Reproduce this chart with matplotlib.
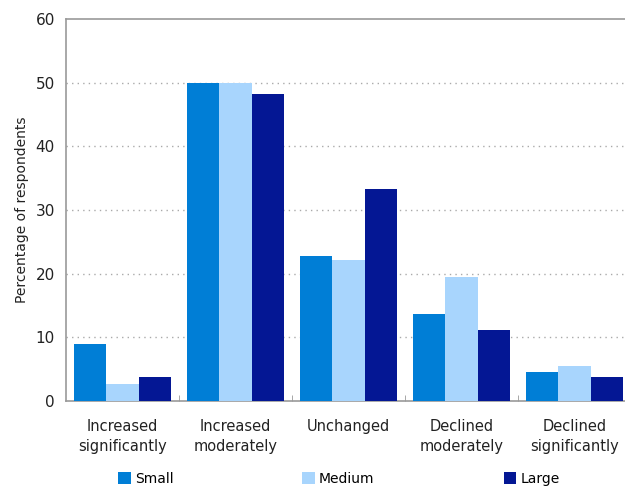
import matplotlib
matplotlib.use("Agg")
import matplotlib.pyplot as plt
import numpy as np

categories = ["Increased\nsignificantly", "Increased\nmoderately", "Unchanged",
              "Declined\nmoderately", "Declined\nsignificantly"]
series_names = ["Small", "Medium", "Large"]
small = [8.9, 50.0, 22.8, 13.7, 4.6]
medium = [2.7, 50.0, 22.2, 19.4, 5.5]
large = [3.8, 48.2, 33.3, 11.2, 3.8]
colors = ["#007ED6", "#A8D5FD", "#041794"]
yticks = [0, 10, 20, 30, 40, 50, 60]

W, H = 625, 486
fig = plt.figure(figsize=(W / 100, H / 100), dpi=100)
# axes spans past the right edge of the canvas
left, right, top, bottom = 66, 631, 19, 401
ax = fig.add_axes([left / W, 1 - bottom / H, (right - left) / W, (bottom - top) / H])

x = np.arange(len(categories))
bw = 0.287
for i, (vals, name, c) in enumerate(zip([small, medium, large], series_names, colors)):
    ax.bar(x + (i - 1) * bw, vals, width=bw, color=c, label=name, linewidth=0, zorder=3)

ax.set_xlim(-0.5, len(categories) - 0.5)
ax.set_ylim(0, 60)
ax.set_yticks(yticks)
ax.set_yticklabels([str(v) for v in yticks], fontsize=11, color="#222222")
ax.tick_params(axis="y", length=0, pad=8)

ax.set_xticks(x)
ax.set_xticklabels(categories, fontsize=10.5, color="#222222", linespacing=1.45)
ax.tick_params(axis="x", length=0, pad=13)
ax.set_xticks(np.arange(0.5, len(categories) - 0.5, 1.0), minor=True)
ax.tick_params(axis="x", which="minor", direction="in", length=4, color="#999999")

for yv in yticks[1:-1]:
    ax.axhline(yv, color="#aaaaaa", linestyle=(0, (1, 3)), linewidth=1, zorder=1)

for s in ["left", "bottom", "top"]:
    ax.spines[s].set_color("#999999")
    ax.spines[s].set_linewidth(1.2)
ax.spines["right"].set_visible(False)

ax.set_ylabel("Percentage of respondents", fontsize=10, color="#222222", labelpad=5)

fig.legend(loc="center left", bbox_to_anchor=(118 / W, 1 - 479 / H), ncol=3,
           frameon=False, fontsize=10, handlelength=0.9, handleheight=0.9,
           handletextpad=0.3, columnspacing=9.3, borderaxespad=0, borderpad=0)

fig.savefig("out.png", dpi=100)
